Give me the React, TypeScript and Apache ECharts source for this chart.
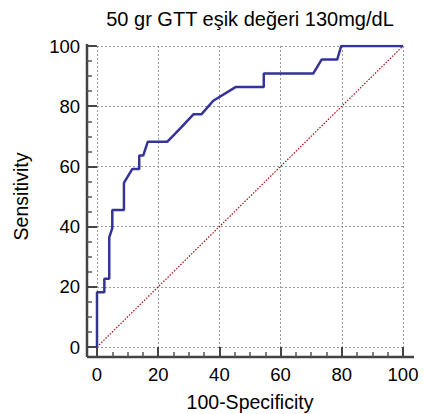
import React, { useEffect, useRef } from "react";
import * as echarts from "echarts";

const titleText = "50 gr GTT eşik değeri 130mg/dL";
const xName = "100-Specificity";
const yName = "Sensitivity";

// ROC curve: 100-Specificity (x) and Sensitivity (y)
const fpr = [0, 0, 2.4, 2.4, 4.0, 4.0, 5.0, 5.0, 8.8, 8.8, 11.5, 13.8, 13.8, 15.1, 16.6, 23.0, 27.3, 31.5, 34.1, 38.0, 45.4, 54.5, 54.5, 70.7, 73.4, 78.5, 79.8, 100];
const tpr = [0, 18.2, 18.2, 22.7, 22.7, 36.4, 39.5, 45.5, 45.5, 54.5, 59.1, 59.1, 63.6, 63.6, 68.2, 68.2, 72.7, 77.3, 77.3, 81.8, 86.4, 86.4, 90.9, 90.9, 95.5, 95.5, 100, 100];
const diagX = [0, 100];
const diagY = [0, 100];
const tickValues = [0, 20, 40, 60, 80, 100];

const FONT = "'Liberation Sans', Arial, Helvetica, sans-serif";

export default function App() {
  const ref = useRef<HTMLDivElement>(null);
  useEffect(() => {
    document.body.style.margin = "0";
    if (!ref.current) return;
    const chart = echarts.init(ref.current, null, { renderer: "svg" });
    const range = {
      type: "value" as const,
      min: tickValues[0],
      max: tickValues[tickValues.length - 1],
      interval: tickValues[1] - tickValues[0],
    };
    const plotAxis = {
      ...range,
      axisLine: { show: false },
      axisTick: { show: false },
      axisLabel: { show: false },
      splitLine: { show: true, lineStyle: { color: "#999", width: 1, type: [2, 2] } },
    };
    const tickAxis = {
      ...range,
      axisLine: { show: false },
      axisTick: { show: true, inside: true, length: 10, lineStyle: { color: "#444", width: 2 } },
      minorTick: { show: true, splitNumber: 4, length: 5, lineStyle: { color: "#555", width: 1.5 } },
      splitLine: { show: false },
      nameLocation: "middle" as const,
      nameMoveOverlap: false,
      nameTextStyle: { color: "#000", fontSize: 19.5, fontFamily: FONT },
    };
    const grids = [
      { left: 97, right: 22, top: 46, bottom: 67, containLabel: false, outerBoundsMode: "none" },
      { left: 97, right: 22, top: 46, bottom: 57, containLabel: false, outerBoundsMode: "none" },
      { left: 87, right: 22, top: 46, bottom: 67, containLabel: false, outerBoundsMode: "none" },
    ];
    chart.setOption({
      animation: false,
      backgroundColor: "#fff",
      grid: grids,
      xAxis: [
        { ...plotAxis, gridIndex: 0 },
        {
          ...tickAxis,
          gridIndex: 1,
          position: "bottom",
          name: xName,
          nameGap: 35,
          axisLabel: { color: "#000", fontSize: 18.5, fontFamily: FONT, margin: 8 },
        },
        { ...range, gridIndex: 2, show: false },
      ],
      yAxis: [
        { ...plotAxis, gridIndex: 0 },
        { ...range, gridIndex: 1, show: false },
        {
          ...tickAxis,
          gridIndex: 2,
          position: "left",
          name: yName,
          nameGap: 56,
          nameRotate: 90,
          axisLabel: { color: "#000", fontSize: 18.5, fontFamily: FONT, margin: 7 },
        },
      ],
      graphic: [
        { type: "text", x: 250, y: 19, style: { text: titleText, fontSize: 20, fontFamily: FONT, fill: "#000", align: "center", verticalAlign: "middle" } },
        { type: "line", shape: { x1: 87, y1: 357, x2: 414, y2: 357 }, style: { stroke: "#444", lineWidth: 2.5 } },
        { type: "line", shape: { x1: 87, y1: 44, x2: 87, y2: 357 }, style: { stroke: "#444", lineWidth: 2.5 } },
      ],
      series: [
        {
          type: "line",
          xAxisIndex: 0,
          yAxisIndex: 0,
          data: diagX.map((x, i) => [x, diagY[i]]),
          symbol: "none",
          lineStyle: { color: "#a01010", width: 1.2, type: [1.5, 1.5] },
        },
        {
          type: "line",
          xAxisIndex: 0,
          yAxisIndex: 0,
          data: fpr.map((x, i) => [x, tpr[i]]),
          symbol: "none",
          lineStyle: { color: "#333399", width: 2.5 },
        },
      ],
    });
    return () => chart.dispose();
  }, []);
  return <div ref={ref} style={{ width: 425, height: 414 }} />;
}
